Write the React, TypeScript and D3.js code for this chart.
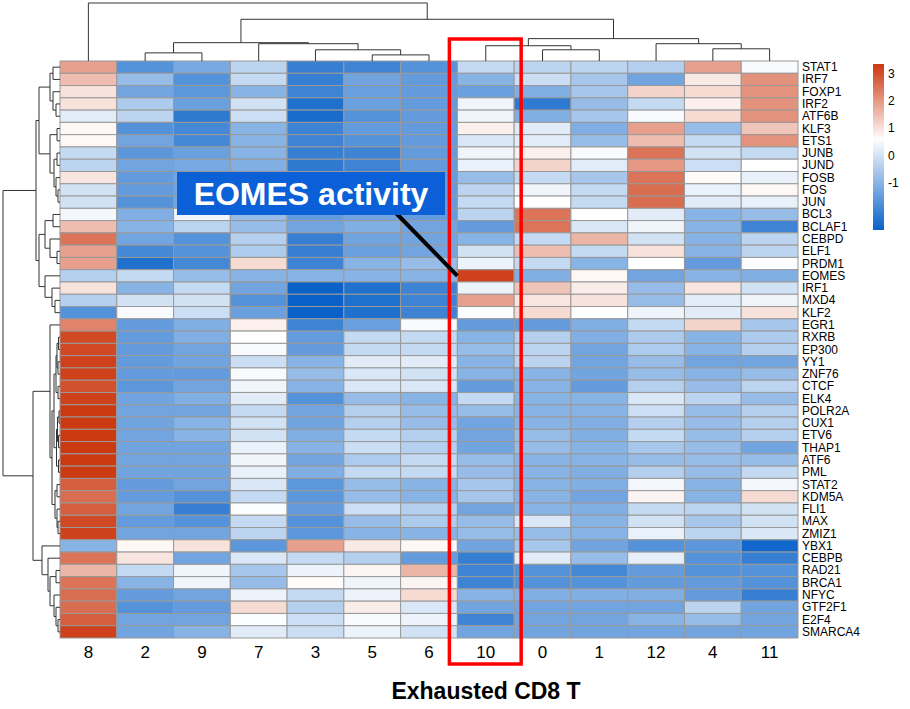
import React from "react";
import * as d3 from "d3";

// ---- data ----
const colNames = ["8", "2", "9", "7", "3", "5", "6", "10", "0", "1", "12", "4", "11"];
const rowNames = [
  "STAT1", "IRF7", "FOXP1", "IRF2", "ATF6B", "KLF3", "ETS1", "JUNB", "JUND", "FOSB", "FOS", "JUN",
  "BCL3", "BCLAF1", "CEBPD", "ELF1", "PRDM1", "EOMES", "IRF1", "MXD4", "KLF2", "EGR1", "RXRB",
  "EP300", "YY1", "ZNF76", "CTCF", "ELK4", "POLR2A", "CUX1", "ETV6", "THAP1", "ATF6", "PML",
  "STAT2", "KDM5A", "FLI1", "MAX", "ZMIZ1", "YBX1", "CEBPB", "RAD21", "BRCA1", "NFYC", "GTF2F1",
  "E2F4", "SMARCA4",
];
const values: number[][] = [
  [1.9, -1.7, -1.2, -0.3, -2.1, -2.0, -1.7, -0.2, -0.3, -0.3, -0.4, 1.9, 0.5],
  [1.5, -0.8, -1.7, -0.2, -2.1, -1.3, -1.5, -1.0, -0.1, -0.6, -1.3, 0.9, 2.1],
  [1.0, -1.3, -1.6, -1.0, -2.0, -1.4, -1.5, -1.4, -1.1, -0.6, 1.2, 1.1, 2.1],
  [1.0, -0.5, -1.4, 0.0, -2.4, -1.4, -1.5, 0.4, -2.2, -0.8, -0.2, 0.8, 2.1],
  [0.2, -0.3, -2.2, -0.1, -2.5, -1.7, -1.5, 0.4, -1.1, -0.6, 0.5, 1.1, 2.1],
  [0.7, -1.7, -1.9, -1.0, -2.0, -1.5, -1.5, 0.8, 0.2, -1.1, 1.9, -0.8, 1.4],
  [0.7, -1.3, -1.9, -1.0, -2.0, -1.7, -1.5, 0.1, 0.2, -0.8, 1.5, -0.2, 2.1],
  [-0.2, -1.6, -1.4, -1.0, -2.1, -2.0, -1.5, 0.4, 0.8, 0.5, 2.5, 0.0, -0.2],
  [-0.3, -1.3, -1.2, -1.1, -2.2, -2.0, -1.5, 0.3, 1.2, 0.2, 2.0, -0.1, 0.6],
  [0.95, -1.5, -1.3, -1.0, -1.7, -1.4, -1.5, -0.8, -0.2, -0.6, 2.5, 0.65, 0.3],
  [0.0, -1.5, -1.3, -1.0, -1.7, -1.4, -1.5, -0.3, 0.4, -0.2, 2.6, 0.3, 0.7],
  [0.0, -1.7, -1.3, -1.0, -1.8, -1.4, -1.5, -0.2, 0.6, -0.2, 2.6, 0.2, 0.3],
  [0.45, -1.1, 0.4, -0.8, -1.5, -1.3, -1.5, -0.3, 2.5, 0.6, 0.2, -1.0, -0.8],
  [1.5, -1.0, -0.3, -0.8, -1.3, -1.1, -1.3, -1.5, 2.5, 0.1, 0.4, -1.0, -2.0],
  [2.5, -1.3, -1.7, -0.4, -2.1, -1.3, -1.3, -1.0, -0.2, 1.6, 0.0, -1.0, -0.3],
  [1.9, -1.9, -1.7, -0.5, -2.1, -1.4, -1.3, 0.0, 1.5, -0.2, 1.0, -1.0, -0.3],
  [1.9, -2.4, -1.9, 1.1, -2.0, -1.0, -0.8, 0.35, -0.2, -1.0, 0.6, -1.5, 0.55],
  [-0.4, -0.2, -0.8, -1.0, -1.0, -1.0, -1.0, 3.2, -1.1, 0.7, -1.3, -1.0, -1.1],
  [1.0, -1.0, -0.2, -1.3, -2.7, -2.4, -2.0, 0.35, 1.4, 0.85, -0.8, 0.95, 0.0],
  [-0.4, 0.0, 0.0, -1.7, -2.7, -2.4, -2.0, 1.9, 0.95, 1.0, -0.8, 0.2, 0.4],
  [-1.7, 0.5, -0.1, -1.4, -2.7, -2.4, -2.0, 0.55, 1.1, 0.6, 0.4, 0.2, 1.0],
  [2.3, -1.5, -1.1, 0.8, -2.0, -1.4, 0.5, -1.5, -1.5, -1.1, -0.2, 1.2, -0.6],
  [3.1, -1.5, -1.1, 0.6, -1.5, -0.2, -0.2, -1.0, -0.4, -1.1, -0.5, -1.0, -0.5],
  [3.1, -1.5, -1.3, 0.5, -1.5, -0.2, -0.2, -0.8, -0.3, -1.3, -0.5, -1.0, -0.4],
  [3.2, -1.5, -1.3, -0.1, -1.0, 0.2, 0.2, -1.0, -0.3, -1.3, -0.8, -1.3, -1.3],
  [3.2, -1.5, -1.5, 0.5, -0.8, 0.1, 0.0, -1.0, -1.0, -1.3, -0.8, -1.0, -0.8],
  [3.0, -1.6, -1.3, 0.4, -1.0, 0.1, 0.1, -1.5, -1.0, -1.5, -0.4, -0.8, -0.3],
  [3.2, -1.3, -1.1, 0.2, -1.7, -0.8, -1.0, -0.2, -1.0, -1.0, 0.1, -0.3, -0.8],
  [3.3, -1.3, -1.3, -0.2, -1.3, -0.4, -0.8, -0.8, -1.0, -1.0, -0.1, -0.8, -0.4],
  [3.3, -1.3, -1.0, 0.0, -1.3, -0.4, -0.8, -1.3, -1.0, -1.1, -0.4, -0.8, -0.4],
  [3.3, -1.3, -1.0, 0.0, -1.1, -0.2, -0.4, -1.3, -0.8, -1.1, -0.2, -0.8, -0.4],
  [3.3, -1.3, -1.3, 0.3, -1.0, -0.1, -0.4, -1.3, -0.8, -1.0, -0.6, -0.8, -1.3],
  [3.3, -1.3, -1.3, 0.4, -1.3, -0.5, -0.2, -0.8, -1.0, -1.0, -0.8, -0.8, -0.8],
  [3.3, -1.3, -1.3, 0.3, -1.1, -0.2, -0.2, -0.8, -1.0, -1.1, -0.4, -0.8, -0.2],
  [2.8, -1.5, -1.3, 0.1, -1.6, -0.8, -1.0, -0.6, -1.0, -1.1, 0.45, -1.0, 0.45],
  [2.6, -1.5, -1.7, -0.2, -1.6, -0.8, -1.0, -0.6, -1.0, -1.3, 0.75, -1.0, 1.1],
  [2.8, -1.3, -2.1, 0.55, -1.5, -0.1, -0.4, -1.3, -1.0, -1.1, -0.2, -0.3, 0.0],
  [3.1, -1.5, -1.7, -0.2, -1.7, -0.8, -0.5, -0.8, 0.1, -1.0, 0.0, -0.6, 0.0],
  [3.2, -1.3, -1.3, -0.3, -1.6, -1.0, -1.0, -0.8, -0.8, -1.0, 0.3, -0.3, 0.1],
  [-1.0, 0.7, 1.0, -1.6, 1.9, 0.9, 0.7, -1.3, -0.6, -1.3, -1.7, -1.6, -2.6],
  [2.5, 0.95, -1.3, 0.1, -0.2, -0.4, -1.5, -2.1, 0.2, -0.8, 0.25, -1.7, -2.1],
  [1.6, -0.2, 0.4, -0.6, 0.35, 0.75, 1.6, -2.0, -1.7, -1.9, -1.5, -1.7, -1.7],
  [2.5, -1.0, 0.4, -0.8, 0.65, 0.4, 0.75, -2.0, -1.7, -1.7, -1.5, -1.5, -1.7],
  [2.6, -1.5, -1.3, 0.35, -0.2, 0.35, 1.1, -1.0, -1.1, -1.1, -1.1, -1.5, -2.1],
  [2.6, -1.7, -1.5, 1.1, -0.4, 0.85, 0.1, -1.3, -1.3, -1.3, -1.3, -0.3, -1.3],
  [2.8, -1.3, -1.3, 0.55, -0.1, 0.5, 0.35, -2.0, -1.3, -1.3, -1.0, -0.8, -1.3],
  [3.2, -1.3, -1.0, 0.2, -0.1, 0.35, 0.0, -1.3, -1.3, -1.3, -1.3, -1.3, -1.3],
];

// hclust-style merges: negative = leaf (display order, 1-based), positive = earlier merge (1-based); third = height
const colMerge: [number, number, number][] = [
  [-6, -7, 6], [-2, -3, 8], [-5, 1, 11], [-9, -10, 11], [-12, -13, 12], [-8, 4, 15],
  [-4, 3, 17], [-11, 5, 17], [2, 7, 18], [6, 8, 22], [9, 10, 41], [-1, 11, 57],
];
const rowMerge: [number, number, number][] = [
  [-4, -5, 4], [-3, 1, 7], [-1, -2, 7], [3, 2, 10], [-6, -7, 3], [-8, -9, 3], [-11, -12, 2],
  [-10, 7, 4], [6, 8, 6], [5, 9, 10], [4, 10, 21], [-13, -14, 7], [-16, -17, 3], [-15, 13, 10],
  [12, 14, 15], [-20, -21, 5], [-19, 16, 8], [-18, 17, 15], [15, 18, 21], [11, 19, 24],
  [-23, -24, 1.5], [-25, -26, 2], [21, 22, 3], [-27, -28, 2], [23, 24, 4], [-29, -30, 1],
  [-31, -32, 1.5], [26, 27, 2.5], [-33, -34, 1.5], [28, 29, 3.5], [25, 30, 6], [-35, -36, 3],
  [-38, -39, 2], [-37, 33, 3], [32, 34, 5], [31, 35, 8], [-22, 36, 10], [-42, -43, 4],
  [-46, -47, 2], [-45, 39, 4], [-44, 40, 6], [38, 41, 10], [-41, 42, 12], [-40, 43, 18],
  [37, 44, 27], [20, 45, 57],
];
const legendTicks = [3, 2, 1, 0, -1];
const highlightCol = "10";
const annotation = "EOMES activity";
const xTitle = "Exhausted CD8 T";

type Seg = { pa: number; ha: number; pb: number; hb: number; h: number };
function dendro(merge: [number, number, number][], leafPos: (i: number) => number): Seg[] {
  const pos: number[] = [];
  const hts: number[] = [];
  const get = (r: number): [number, number] => (r < 0 ? [leafPos(-r - 1), 0] : [pos[r - 1], hts[r - 1]]);
  return merge.map(([a, b, h], k) => {
    const [pa, ha] = get(a);
    const [pb, hb] = get(b);
    pos[k] = (pa + pb) / 2;
    hts[k] = h;
    return { pa, ha, pb, hb, h };
  });
}

export default function App() {
  const font = "'Liberation Sans', Arial, sans-serif";
  const x = d3.scaleBand<string>().domain(colNames).range([60, 798]);
  const y = d3.scaleBand<string>().domain(rowNames).range([61, 638]);
  const color = d3
    .scaleLinear<string>()
    .domain([-2.7, 0.6, 3.3])
    .range(["#0a62c9", "#ffffff", "#cc3a12"])
    .interpolate(d3.interpolateRgb)
    .clamp(true);

  const topH = d3.scaleLinear().domain([0, 57]).range([61, 3]);
  const leftH = d3.scaleLinear().domain([0, 57]).range([60, 3]);
  const colSegs = dendro(colMerge, (i) => x(colNames[i])! + x.bandwidth() / 2);
  const rowSegs = dendro(rowMerge, (i) => y(rowNames[i])! + y.bandwidth() / 2);

  const legY = d3.scaleLinear().domain([-2.72, 3.36]).range([230, 64]);
  const gradStops = d3.range(0, 21).map((k) => {
    const v = -2.72 + (k / 20) * (3.36 + 2.72);
    return { off: k / 20, c: color(v) };
  });

  const hx = x(highlightCol)!;

  return (
    <svg width={910} height={709} style={{ position: "absolute", left: 0, top: 0, background: "#fff" }}>
      <defs>
        <linearGradient id="leg" x1="0" y1="1" x2="0" y2="0">
          {gradStops.map((s, i) => (
            <stop key={i} offset={s.off} stopColor={s.c} />
          ))}
        </linearGradient>
      </defs>
      <rect width={910} height={709} fill="#fff" />
      <g>
        {values.map((row, i) =>
          row.map((v, j) => (
            <rect
              key={`${i}-${j}`}
              x={x(colNames[j])}
              y={y(rowNames[i])}
              width={x.bandwidth()}
              height={y.bandwidth()}
              fill={color(v)}
              stroke="#999999"
              strokeWidth={1}
            />
          ))
        )}
      </g>
      <g fill="none" stroke="#333" strokeWidth={1}>
        {colSegs.map((s, i) => (
          <path key={i} d={`M${s.pa},${topH(s.ha)}V${topH(s.h)}H${s.pb}V${topH(s.hb)}`} />
        ))}
      </g>
      <g fill="none" stroke="#333" strokeWidth={1}>
        {rowSegs.map((s, i) => (
          <path key={i} d={`M${leftH(s.ha)},${s.pa}H${leftH(s.h)}V${s.pb}H${leftH(s.hb)}`} />
        ))}
      </g>
      <g fontFamily={font} fontSize={12} fill="#000">
        {rowNames.map((r) => (
          <text key={r} x={802} y={y(r)! + y.bandwidth() / 2} dominantBaseline="central">
            {r}
          </text>
        ))}
      </g>
      <g fontFamily={font} fontSize={17} fill="#000" textAnchor="middle">
        {colNames.map((c) => (
          <text key={c} x={x(c)! + x.bandwidth() / 2} y={658}>
            {c}
          </text>
        ))}
      </g>
      <rect x={873} y={legY(3.36)} width={11} height={legY(-2.72) - legY(3.36)} fill="url(#leg)" />
      <g fontFamily={font} fontSize={12} fill="#000">
        {legendTicks.map((t) => (
          <text key={t} x={888} y={legY(t)} dominantBaseline="central">
            {t}
          </text>
        ))}
      </g>
      <rect x={hx - 8} y={39} width={x.bandwidth() + 15} height={625} fill="none" stroke="#ff0000" strokeWidth={3.5} />
      <line x1={393} y1={210} x2={hx} y2={y("EOMES")! + y.bandwidth() / 2} stroke="#000" strokeWidth={4} />
      <rect x={177} y={172} width={268} height={43} fill="#0b60d8" />
      <text x={311} y={205} textAnchor="middle" fontFamily={font} fontWeight="bold" fontSize={32} fill="#fff">
        {annotation}
      </text>
      <text x={486} y={699} textAnchor="middle" fontFamily={font} fontWeight="bold" fontSize={23} fill="#000">
        {xTitle}
      </text>
    </svg>
  );
}
